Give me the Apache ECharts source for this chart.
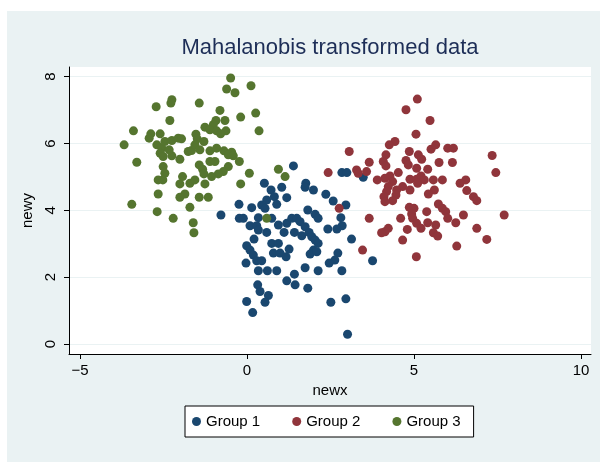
<!DOCTYPE html>
<html><head><meta charset="utf-8">
<script src="https://cdn.jsdelivr.net/npm/echarts@6/dist/echarts.min.js"></script>
<style>
html,body{margin:0;padding:0;background:#fff;}
#bg{position:absolute;left:7px;top:11px;width:593px;height:451px;background:#EAF2F3;}
#chart{position:absolute;left:0;top:0;width:600px;height:464px;}
</style></head><body>
<div id="bg"></div><div id="chart"></div>
<script>
const xTicks = [-5, 0, 5, 10];
const yTicks = [0, 2, 4, 6, 8];
const seriesNames = ['Group 1', 'Group 2', 'Group 3'];

const group1 = [[0.52,4.81],[0.72,4.61],[1.04,4.69],[0.82,4.41],[1.19,4.38],[0.59,4.31],[0.44,4.16],[0.89,4.18],[-0.24,4.18],[0.14,4.08],[0.54,4.06],[-0.78,3.86],[-0.23,3.76],[-0.11,3.76],[0.34,3.78],[0.74,3.76],[0.09,3.54],[0.29,3.54],[0.94,3.56],[1.19,3.61],[0.34,3.41],[0.59,3.34],[1.11,3.34],[0.21,3.14],[0.74,3.01],[0.94,3.01],[-0.01,2.94],[0.09,2.81],[0.79,2.72],[0.99,2.72],[1.17,2.61],[0.19,2.66],[0.29,2.49],[0.44,2.49],[-0.03,2.42],[0.34,2.19],[0.61,2.19],[0.89,2.19],[1.19,1.89],[0.32,1.77],[0.39,1.57],[0.64,1.45],[-0.01,1.27],[0.54,1.25],[0.17,0.94],
[1.39,5.33],[1.76,4.81],[1.74,4.69],[1.99,4.61],[2.36,4.48],[2.58,4.28],[2.96,4.16],[1.82,4.01],[2.04,3.88],[2.13,3.76],[2.81,3.78],[2.85,3.54],[2.69,3.44],[2.42,3.44],[1.34,3.76],[1.49,3.76],[1.59,3.66],[1.74,3.51],[1.42,3.34],[1.64,3.24],[1.86,3.34],[1.94,3.21],[2.04,3.11],[2.13,3.01],[3.13,3.14],[1.99,2.81],[1.89,2.69],[2.09,2.76],[2.72,2.72],[2.63,2.51],[2.46,2.42],[1.74,2.28],[2.13,2.19],[2.84,2.19],[1.42,2.09],[1.44,1.77],[1.82,1.67],[2.51,1.25],[2.96,1.35],[3.01,0.29],[2.84,5.13],[2.99,5.13],[3.48,4.99],[3.76,2.49],[1.26,2.84]];

const group2 = [[5.10,7.33],[4.76,7.01],[5.06,6.28],[4.43,6.06],[4.26,5.96],[3.06,5.76],[4.16,5.66],[4.86,5.76],[5.13,5.66],[3.66,5.44],[4.08,5.46],[4.76,5.49],[4.83,5.36],[4.16,5.33],[5.08,5.26],[2.43,5.13],[3.28,5.21],[3.33,5.11],[3.58,5.16],[4.53,5.13],[4.28,5.03],[4.13,4.96],[3.90,4.91],[4.88,4.93],[5.08,4.93],[4.36,4.86],[4.23,4.71],[4.66,4.71],[4.48,4.61],[4.88,4.61],[4.18,4.56],[4.46,4.46],[4.10,4.41],[4.36,4.29],[4.13,4.26],[2.76,4.06],[4.86,4.09],[5.00,4.06],[4.93,3.89],[3.66,3.76],[4.60,3.76],[4.96,3.76],[5.08,3.61],[4.23,3.46],[4.13,3.36],[4.03,3.33],[4.80,3.43],[4.66,3.11],[3.46,2.81],[5.07,2.61],
[5.48,6.69],[5.51,5.83],[5.65,5.96],[6.01,5.86],[6.18,5.86],[5.23,5.53],[5.75,5.43],[6.15,5.43],[7.34,5.64],[7.45,5.13],[5.41,5.23],[5.21,5.03],[5.31,4.91],[5.58,4.91],[5.85,4.91],[6.55,4.91],[6.38,4.81],[6.58,4.59],[5.61,4.61],[5.43,4.49],[6.78,4.41],[6.88,4.29],[5.73,4.19],[5.85,4.06],[5.95,3.96],[5.38,3.96],[6.01,3.76],[6.48,3.86],[6.25,3.63],[7.70,3.86],[5.41,3.63],[5.21,3.46],[5.65,3.56],[5.58,3.33],[5.71,3.23],[6.88,3.46],[7.18,3.13],[6.28,2.93],[5.11,4.81]];

const group3 = [[-2.25,7.31],[-2.28,7.21],[-2.72,7.10],[-2.31,6.69],[-3.40,6.38],[-2.88,6.29],[-2.60,6.29],[-2.93,6.16],[-3.68,5.96],[-2.70,5.96],[-2.55,5.86],[-2.46,6.06],[-2.25,6.09],[-2.06,6.16],[-1.96,6.14],[-2.60,5.71],[-2.51,5.61],[-2.25,5.63],[-2.33,5.81],[-3.30,5.44],[-2.01,5.53],[-1.76,5.76],[-1.66,5.79],[-2.51,5.31],[-2.46,5.11],[-2.66,4.91],[-2.52,4.91],[-1.93,5.01],[-2.01,4.79],[-1.71,4.81],[-2.66,4.49],[-1.86,4.49],[-2.01,4.39],[-3.45,4.18],[-2.69,3.96],[-1.71,4.09],[-2.21,3.76],[-1.61,3.63],[-1.59,3.33],
[-0.49,7.96],[0.12,7.73],[-0.61,7.63],[-0.36,7.52],[-1.43,7.21],[-0.81,6.99],[0.26,6.91],[-0.19,6.79],[-0.66,6.69],[-0.93,6.69],[-1.01,6.56],[-1.26,6.49],[-1.11,6.41],[-0.91,6.38],[-0.63,6.38],[-0.79,6.29],[0.36,6.38],[-1.53,6.28],[-1.49,6.14],[-1.29,6.06],[-1.56,5.96],[-1.41,5.81],[-1.11,5.78],[-0.91,5.86],[-0.69,5.78],[-0.46,5.74],[-0.56,5.66],[-0.41,5.63],[-0.23,5.46],[-1.43,5.36],[-1.11,5.46],[-0.96,5.46],[-1.33,5.23],[-0.56,5.31],[-0.71,5.16],[-0.86,5.09],[-1.29,5.09],[-1.06,5.01],[0.07,5.11],[-1.56,4.91],[-1.26,4.79],[-0.19,4.79],[-1.43,4.39],[-1.16,4.39],[0.59,3.76],[0.94,5.23],[1.14,5.01]];

const colors = ['#1A476F', '#90353B', '#55752F'];
const FONT = '"Liberation Sans", Arial, Helvetica, sans-serif';
const fmt = v => (v < 0 ? '\u2212' + Math.abs(v) : String(v));

const chart = echarts.init(document.getElementById('chart'), null, {renderer: 'canvas'});
chart.setOption({
  backgroundColor: 'transparent',
  animation: false,
  color: colors,
  textStyle: {fontFamily: FONT},
  title: {
    text: 'Mahalanobis transformed data',
    left: 330, top: 37, padding: 0, textAlign: 'center',
    textStyle: {fontSize: 22, fontWeight: 'normal', color: '#1d2e57', fontFamily: FONT}
  },
  grid: {left: 69, right: 9, top: 67, bottom: 110, show: true, backgroundColor: '#fff', borderWidth: 0, containLabel: false},
  xAxis: {
    type: 'value', min: -5.33, max: 10.30,
    name: 'newx', nameLocation: 'middle', nameGap: 24,
    nameTextStyle: {fontSize: 15, color: '#000', fontFamily: FONT},
    axisLine: {show: true, onZero: false, lineStyle: {color: '#000', width: 1}},
    axisTick: {show: true, length: 5, customValues: xTicks, lineStyle: {color: '#000'}},
    axisLabel: {customValues: xTicks, fontSize: 15, color: '#000', margin: 9, formatter: fmt},
    splitLine: {show: false}
  },
  yAxis: {
    type: 'value', min: -0.30, max: 8.29,
    name: 'newy', nameLocation: 'middle', nameGap: 27, nameRotate: 90,
    nameTextStyle: {fontSize: 15, color: '#000', fontFamily: FONT},
    axisLine: {show: true, onZero: false, lineStyle: {color: '#000', width: 1}},
    axisTick: {show: true, length: 5, customValues: yTicks, lineStyle: {color: '#000'}},
    axisLabel: {customValues: yTicks, fontSize: 15, color: '#000', margin: 11, rotate: 90, formatter: fmt},
    splitLine: {show: true, lineStyle: {color: '#EAF2F3', width: 1}}
  },
  legend: {
    left: 185, top: 406, orient: 'horizontal',
    padding: [8, 13, 8, 7], itemGap: 32, itemWidth: 9, itemHeight: 9, icon: 'circle',
    backgroundColor: '#fff', borderColor: '#000', borderWidth: 1, borderRadius: 0,
    textStyle: {fontSize: 15, color: '#000', fontFamily: FONT},
    data: seriesNames
  },
  series: [group1, group2, group3].map((d, i) => ({
    name: seriesNames[i], type: 'scatter', data: d, symbol: 'circle', symbolSize: 9,
    itemStyle: {color: colors[i], opacity: 1}
  }))
});
</script>
</body></html>
